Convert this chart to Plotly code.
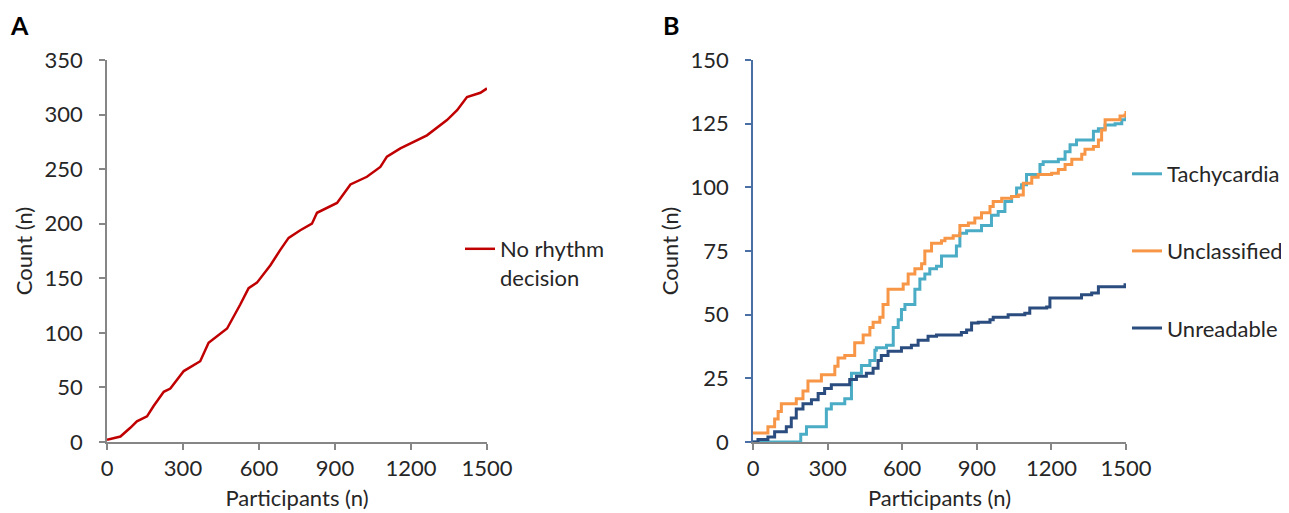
import plotly.graph_objects as go

# ---- Panel A data: cumulative count of "No rhythm decision" ----
a_participants = [0, 53, 92, 118, 158, 184, 224, 250, 303, 368, 401, 474, 526, 559, 592,
                  645, 684, 717, 763, 809, 829, 908, 961, 1026, 1079, 1105, 1158, 1224,
                  1263, 1342, 1382, 1421, 1474, 1500]
a_count = [2, 5, 13, 19, 23.5, 33, 46, 49, 65, 74, 91, 104, 126, 141, 146,
           162, 176, 187, 194, 200, 210, 219, 236, 243, 252, 261.5, 269, 277,
           281, 295, 304, 316, 320, 324]

# ---- Panel B data ----
tachy_x = [0, 181, 192, 215, 255, 295, 315, 349, 369, 396, 436, 470, 490, 496, 537, 564, 584, 597,
           611, 631, 651, 671, 691, 711, 738, 758, 792, 818, 832, 859, 892, 919, 959, 986,
           1013, 1040, 1060, 1080, 1100, 1121, 1154, 1167, 1201, 1228, 1255, 1275, 1301,
           1349, 1369, 1389, 1416, 1456, 1483, 1500]
tachy_y = [0, 0, 3, 6, 6, 13, 15, 15, 17, 27, 30, 32, 36, 37, 38, 45, 48, 52,
           54, 54, 60, 64, 66, 68, 69, 73, 73, 77, 82, 83, 83, 85, 89, 90.5,
           94.4, 96.4, 99.7, 101, 105, 105, 109, 110, 110, 111, 114, 116.7, 118.6,
           118.6, 122, 123, 124.5, 125, 126.5, 128]

uncl_x = [0, 47, 60, 87, 101, 114, 154, 174, 201, 221, 262, 275, 309, 329, 342, 369, 409,
          443, 470, 483, 510, 523, 543, 590, 604, 624, 651, 678, 691, 718, 758, 772, 805,
          832, 866, 892, 919, 953, 966, 1000, 1040, 1067, 1087, 1121, 1147, 1201, 1228,
          1255, 1282, 1322, 1335, 1369, 1389, 1402, 1416, 1456, 1476, 1496, 1500]
uncl_y = [3.5, 3.5, 6, 9, 12, 15, 15, 17, 20, 24, 24, 26.4, 26.4, 29.7, 33, 34, 39,
          42, 45, 47, 49, 54, 60, 60, 62, 66, 68, 70, 75, 78, 79, 80, 81,
          85, 86, 88, 90, 92.5, 94.4, 95.7, 96.4, 97, 101.6, 104, 105, 105.5, 107,
          109, 111, 113, 115, 116, 118.6, 122.5, 126.5, 126.5, 128, 128.4, 130]

unread_x = [0, 20, 60, 87, 134, 154, 174, 201, 235, 262, 288, 315, 362, 389, 416, 456, 483,
            503, 516, 543, 597, 637, 664, 704, 738, 772, 838, 859, 879, 906, 953, 966,
            1026, 1093, 1113, 1181, 1194, 1308, 1321, 1362, 1389, 1496, 1500]
unread_y = [0, 1, 2, 4, 6, 9.4, 13, 15, 16.6, 19, 21, 22.5, 22.5, 24.5, 25.8, 27, 29,
            32, 34, 35.6, 37, 38, 40, 41.5, 42, 42, 43, 44, 46.7, 47, 48, 49,
            50, 50.6, 52.6, 53, 56.5, 56.5, 57.8, 58.5, 61, 61.7, 62]

x_ticks = [0, 300, 600, 900, 1200, 1500]
a_y_ticks = [0, 50, 100, 150, 200, 250, 300, 350]
b_y_ticks = [0, 25, 50, 75, 100, 125, 150]

FONT = "Lato"
FS = 22
TXT = "#262626"
GREY = "#868686"
BLUE_AXIS = "#4A6FA5"

fig = go.Figure()

fig.add_trace(go.Scatter(x=a_participants, y=a_count, mode="lines",
                         name="No rhythm<br>decision",
                         line=dict(color="#C00000", width=2.5),
                         xaxis="x", yaxis="y", legend="legend"))

fig.add_trace(go.Scatter(x=tachy_x, y=tachy_y, mode="lines", name="Tachycardia",
                         line=dict(color="#4BACC6", width=3, shape="hv"),
                         xaxis="x2", yaxis="y2", legend="legend2", legendgroup="t"))
fig.add_trace(go.Scatter(x=uncl_x, y=uncl_y, mode="lines", name="Unclassified",
                         line=dict(color="#F79646", width=3, shape="hv"),
                         xaxis="x2", yaxis="y2", legend="legend2", legendgroup="u"))
fig.add_trace(go.Scatter(x=unread_x, y=unread_y, mode="lines", name="Unreadable",
                         line=dict(color="#2B4C7E", width=3, shape="hv"),
                         xaxis="x2", yaxis="y2", legend="legend2", legendgroup="r"))

# the page body has an 8px margin, so the figure is sized to fit the window
W, H = 1281, 505
ydom = [(H - 434) / H, (H - 52) / H]

common_x = dict(range=[0, 1500], tickvals=x_ticks, showgrid=False, zeroline=False,
                showline=True, linecolor=GREY, linewidth=1.5, ticks="outside",
                ticklen=6, tickcolor=GREY, tickwidth=1.5, automargin=False,
                tickfont=dict(family=FONT, size=FS, color=TXT),
                title=dict(text="Participants (n)", font=dict(family=FONT, size=FS, color=TXT),
                           standoff=10))


def y_axis(rng, ticks, color):
    return dict(domain=ydom, range=rng, tickvals=ticks,
                showgrid=False, zeroline=False, showline=True, linecolor=color,
                linewidth=1.5, ticks="outside", ticklen=6, tickcolor=color, tickwidth=1.5,
                ticklabelstandoff=12, automargin=False,
                tickfont=dict(family=FONT, size=FS, color=TXT),
                title=dict(text="Count (n)", font=dict(family=FONT, size=FS, color=TXT),
                           standoff=6))


fig.update_layout(
    width=W, height=H,
    paper_bgcolor="white", plot_bgcolor="white",
    margin=dict(l=0, r=0, t=0, b=0, autoexpand=False),
    font=dict(family=FONT, size=FS, color=TXT),
    xaxis=dict(domain=[99 / W, 479 / W], anchor="y", **common_x),
    xaxis2=dict(domain=[745 / W, 1118 / W], anchor="y2", **common_x),
    yaxis=dict(anchor="x", **y_axis([0, 350], a_y_ticks, GREY)),
    yaxis2=dict(anchor="x2", **y_axis([0, 150], b_y_ticks, BLUE_AXIS)),
    legend=dict(x=452 / W, xanchor="left", y=(H - 220) / H, yanchor="top",
                bgcolor="rgba(0,0,0,0)", valign="top",
                font=dict(family=FONT, size=FS, color=TXT), itemwidth=30),
    legend2=dict(x=1119 / W, xanchor="left", y=(H - 145) / H, yanchor="top",
                 bgcolor="rgba(0,0,0,0)", traceorder="grouped", tracegroupgap=45.5,
                 font=dict(family=FONT, size=FS, color=TXT), itemwidth=30),
    showlegend=True,
    annotations=[
        dict(text="<b>A</b>", x=0, y=1, xref="paper", yref="paper",
             xanchor="left", yanchor="top", showarrow=False,
             font=dict(family=FONT, size=25, color="black")),
        dict(text="<b>B</b>", x=653 / W, y=1, xref="paper", yref="paper",
             xanchor="left", yanchor="top", showarrow=False,
             font=dict(family=FONT, size=25, color="black")),
    ],
)

fig.write_html("out.html")
